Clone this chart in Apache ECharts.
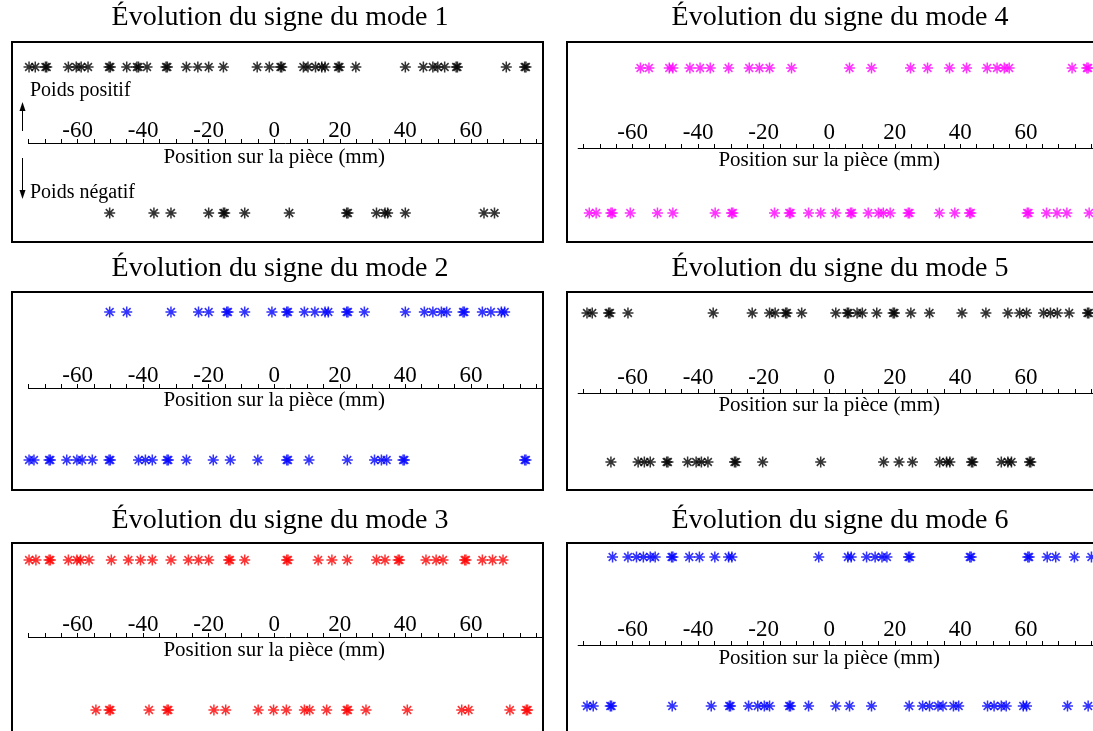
<!DOCTYPE html>
<html><head><meta charset="utf-8">
<script src="https://cdn.jsdelivr.net/npm/echarts@6/dist/echarts.min.js"></script>
<style>html,body{margin:0;padding:0;background:#fff}#c{width:1093px;height:731px}</style>
</head><body><div id="c"></div>
<script>
// ---------- data (positions in mm) ----------
const tickLabels = [-60, -40, -20, 0, 20, 40, 60];
const minorTicks = [-75,-70,-65,-60,-55,-50,-45,-40,-35,-30,-25,-20,-15,-10,-5,0,5,10,15,20,25,30,35,40,45,50,55,60,65,70,75,80];
const titles = ['Évolution du signe du mode 1','Évolution du signe du mode 2','Évolution du signe du mode 3',
                'Évolution du signe du mode 4','Évolution du signe du mode 5','Évolution du signe du mode 6'];
const axisName = 'Position sur la pièce (mm)';
const colors = ['#000000','#0000ff','#ff0000','#ff00ff','#000000','#0000ff'];

const mode1Pos = [-74.8,-72.9,-69.8,-69.4,-62.8,-60.4,-58.9,-56.8,-50.4,-50.0,-45.0,-41.9,-41.4,-38.8,-33.0,-32.6,-26.8,-23.3,-20.0,-15.5,-5.2,-1.5,1.9,2.3,8.9,10.3,12.6,14.5,15.5,19.5,19.9,24.9,40.0,45.5,48.4,49.9,52.0,55.5,55.9,70.8,76.4,76.8];
const mode1Neg = [-50.2,-36.7,-31.5,-20.0,-15.5,-15.1,-9.0,4.6,22.1,22.5,31.2,33.8,34.6,40.0,64.0,67.2];
const mode2Pos = [-50.2,-45.0,-31.5,-23.1,-20.0,-14.5,-14.1,-9.0,-0.7,3.8,4.2,9.2,12.4,15.5,16.5,22.1,22.5,27.5,40.0,45.8,48.4,51.0,52.6,57.6,58.0,63.5,66.1,69.3,70.3];
const mode2Neg = [-74.8,-73.3,-68.7,-68.3,-63.3,-60.2,-58.6,-55.5,-50.4,-50.0,-41.4,-39.3,-37.2,-32.7,-32.3,-26.8,-18.6,-13.4,-5.0,3.8,4.2,10.6,22.3,30.6,32.7,34.3,39.3,39.7,76.4,76.8];
const mode3Pos = [-74.8,-72.7,-68.7,-68.3,-62.8,-60.2,-59.1,-56.5,-49.7,-44.5,-40.8,-37.2,-31.5,-26.2,-23.1,-20.0,-13.9,-13.5,-9.0,3.8,4.2,13.4,17.6,22.3,31.2,33.8,37.8,38.2,46.3,49.4,51.5,58.1,58.5,63.5,66.6,69.8];
const mode3Neg = [-54.4,-50.4,-50.0,-38.2,-32.7,-32.3,-18.4,-14.8,-4.9,-0.2,3.7,9.2,10.8,16.0,22.1,22.5,28.0,40.6,57.2,59.3,71.9,76.9,77.3];
const mode4Pos = [-57.6,-55.0,-48.8,-47.7,-42.5,-39.4,-36.3,-30.7,-24.4,-21.3,-18.2,-11.5,6.2,12.9,24.8,30.0,36.7,41.9,48.2,51.2,53.4,54.9,74.1,78.6,79.0];
const mode4Neg = [-73.2,-71.1,-66.6,-66.2,-60.7,-52.4,-47.7,-34.8,-29.8,-29.4,-16.7,-12.2,-11.8,-6.3,-2.6,2.0,6.5,6.9,11.9,15.0,16.5,18.6,24.1,24.5,33.6,38.3,42.8,43.2,60.4,60.8,66.3,69.5,72.5,79.3];
const mode5Pos = [-73.9,-72.3,-67.3,-66.9,-61.4,-35.4,-23.5,-18.2,-16.5,-13.3,-12.9,-8.4,2.0,5.5,5.9,8.5,10.1,14.5,19.5,19.9,24.9,30.6,40.5,47.8,54.5,58.1,60.2,65.4,67.5,69.6,73.2,78.8,79.2];
const mode5Neg = [-66.6,-58.3,-56.4,-54.6,-49.6,-49.2,-43.2,-40.6,-39.0,-37.0,-28.9,-28.5,-20.3,-2.6,16.6,21.3,25.4,33.7,35.8,36.8,43.4,43.8,52.5,54.5,55.6,61.1,61.5];
const mode6Pos = [-66.1,-61.4,-58.8,-56.7,-54.6,-53.1,-48.1,-47.7,-42.7,-39.6,-34.9,-30.7,-29.7,-3.2,5.7,6.7,11.4,14.0,16.1,17.6,24.2,24.6,42.9,43.3,60.6,61.0,66.5,69.1,74.8,80.0];
const mode6Neg = [-73.9,-72.0,-66.8,-66.4,-47.9,-36.0,-30.5,-30.1,-24.6,-21.8,-19.8,-18.2,-12.2,-11.8,-6.3,2.0,6.2,12.9,24.4,28.5,30.6,33.2,34.7,37.9,39.5,48.3,50.3,52.5,54.0,59.2,60.2,72.7,79.0];

const posData = [mode1Pos, mode2Pos, mode3Pos, mode4Pos, mode5Pos, mode6Pos];
const negData = [mode1Neg, mode2Neg, mode3Neg, mode4Neg, mode5Neg, mode6Neg];

// ---------- layout ----------
const X_MIN = -80, PX_PER_MM = 531 / 162;
const layout = [
  {left:12,  top:42,  w:531, h:200, yPos:67,  yNeg:213, axisY:143, axisMin:-75,   lm:1, nameY:157, titleX:280, titleY:18},
  {left:12,  top:292, w:531, h:198, yPos:312, yNeg:460, axisY:388, axisMin:-75,   lm:1, nameY:400, titleX:280, titleY:269},
  {left:12,  top:543, w:531, h:250, yPos:560, yNeg:710, axisY:637, axisMin:-75,   lm:1, nameY:650, titleX:280, titleY:521},
  {left:567, top:42,  w:560, h:200, yPos:68,  yNeg:213, axisY:148, axisMin:-76.6, lm:4, nameY:160, titleX:840, titleY:18},
  {left:567, top:292, w:560, h:198, yPos:313, yNeg:462, axisY:393, axisMin:-76.6, lm:4, nameY:405, titleX:840, titleY:269},
  {left:567, top:543, w:560, h:250, yPos:557, yNeg:706, axisY:645, axisMin:-76.6, lm:4, nameY:658, titleX:840, titleY:521}
];
const FONT = '"Liberation Serif", "Times New Roman", serif';
const STAR = 'path://M5,0L5,10M0,5L10,5M1.46,1.46L8.54,8.54M8.54,1.46L1.46,8.54';

const grid = [], xAxis = [], yAxis = [], series = [], title = [], graphic = [];
layout.forEach((L, p) => {
  const xMax = X_MIN + L.w / PX_PER_MM;
  const k = (L.yNeg - L.yPos) / 2, z = (L.yPos + L.yNeg) / 2;
  grid.push({left: L.left, top: L.top, width: L.w, height: L.h, show: true, outerBoundsMode: 'none',
             borderColor: '#000', borderWidth: 2, backgroundColor: 'transparent'});
  const aLeft = L.left + (L.axisMin - X_MIN) * PX_PER_MM;
  grid.push({left: aLeft, top: L.axisY, width: (xMax - L.axisMin) * PX_PER_MM, height: 10, show: false, outerBoundsMode: 'none'});
  const gBox = 2 * p, gAx = 2 * p + 1;
  xAxis.push({gridIndex: gBox, type: 'value', min: X_MIN, max: xMax, show: false});
  xAxis.push({gridIndex: gAx, type: 'value', position: 'top', min: L.axisMin, max: xMax,
    axisLine: {show: true, onZero: false, lineStyle: {color: '#000', width: 1}},
    axisTick: {show: true, inside: false, length: 4, customValues: minorTicks, lineStyle: {color: '#000'}},
    axisLabel: {show: true, customValues: tickLabels, margin: L.lm, color: '#000', fontFamily: FONT, fontSize: 23},
    splitLine: {show: false}});
  yAxis.push({gridIndex: gBox, type: 'value', min: -(L.top + L.h - z) / k, max: (z - L.top) / k, show: false});
  yAxis.push({gridIndex: gAx, type: 'value', min: 0, max: 1, show: false});
  const style = {color: 'rgba(0,0,0,0)', borderColor: colors[p], borderWidth: 1.5};
  series.push({type: 'scatter', xAxisIndex: 2 * p, yAxisIndex: gBox, symbol: STAR, symbolSize: 11,
    itemStyle: style, silent: true, data: posData[p].map(v => [v, 1])});
  series.push({type: 'scatter', xAxisIndex: 2 * p, yAxisIndex: gBox, symbol: STAR, symbolSize: 11,
    itemStyle: style, silent: true, data: negData[p].map(v => [v, -1])});
  title.push({text: titles[p], left: L.titleX, top: L.titleY - 14, textAlign: 'center', padding: 0,
    textStyle: {fontFamily: FONT, fontSize: 28, fontWeight: 'normal', color: '#000'}});
  const zeroX = L.left + (0 - X_MIN) * PX_PER_MM;
  graphic.push({type: 'text', x: zeroX, y: L.nameY, silent: true,
    style: {text: axisName, font: '21px ' + FONT, fill: '#000', align: 'center', verticalAlign: 'middle',
            textAlign: 'center', textVerticalAlign: 'middle'}});
});

graphic.push({type: 'text', x: 30, y: 91, silent: true,
  style: {text: 'Poids positif', font: '20px ' + FONT, fill: '#000', align: 'left', verticalAlign: 'middle', textVerticalAlign: 'middle'}});
graphic.push({type: 'text', x: 30, y: 193, silent: true,
  style: {text: 'Poids négatif', font: '20px ' + FONT, fill: '#000', align: 'left', verticalAlign: 'middle', textVerticalAlign: 'middle'}});
graphic.push({type: 'line', silent: true, shape: {x1: 22.5, y1: 131, x2: 22.5, y2: 106}, style: {stroke: '#000', lineWidth: 1}});
graphic.push({type: 'polygon', silent: true, shape: {points: [[22.5, 102], [19.5, 111], [25.5, 111]]}, style: {fill: '#000'}});
graphic.push({type: 'line', silent: true, shape: {x1: 22.5, y1: 158, x2: 22.5, y2: 194}, style: {stroke: '#000', lineWidth: 1}});
graphic.push({type: 'polygon', silent: true, shape: {points: [[22.5, 199], [19.5, 190], [25.5, 190]]}, style: {fill: '#000'}});

const chart = echarts.init(document.getElementById('c'), null, {renderer: 'canvas'});
chart.setOption({animation: false, backgroundColor: '#fff', title, grid, xAxis, yAxis, series, graphic});
</script></body></html>
